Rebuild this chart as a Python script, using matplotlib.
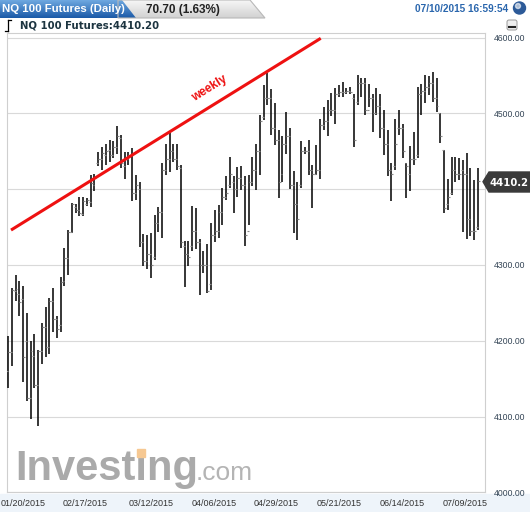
import numpy as np
import matplotlib.pyplot as plt
from matplotlib.patches import Polygon, Rectangle, Circle, FancyBboxPatch
from matplotlib.colors import LinearSegmentedColormap

# daily OHLC bars of NQ 100 futures
highs = [4206, 4270, 4287, 4279, 4272, 4236, 4200, 4209, 4188, 4224,
         4244, 4256, 4270, 4233, 4284, 4322, 4346, 4382, 4380, 4389,
         4389, 4388, 4418, 4420, 4449, 4456, 4460, 4465, 4463, 4483,
         4472, 4449, 4449, 4454, 4419, 4409, 4341, 4340, 4342, 4366,
         4377, 4434, 4460, 4474, 4460, 4460, 4432, 4331, 4331, 4378,
         4375, 4334, 4319, 4327, 4355, 4373, 4379, 4401, 4417, 4442,
         4417, 4429, 4430, 4417, 4418, 4443, 4460, 4498, 4537, 4553,
         4532, 4514, 4478, 4470, 4502, 4480, 4424, 4410, 4464, 4455,
         4465, 4432, 4458, 4493, 4508, 4518, 4527, 4534, 4537, 4542,
         4533, 4535, 4526, 4550, 4546, 4546, 4539, 4526, 4533, 4526,
         4504, 4478, 4434, 4492, 4505, 4486, 4434, 4457, 4476, 4535,
         4539, 4551, 4549, 4555, 4547, 4500, 4452, 4413, 4442, 4442,
         4441, 4439, 4448, 4428, 4412, 4428]
lows = [4138, 4166, 4252, 4232, 4145, 4121, 4097, 4137, 4087, 4169,
        4178, 4183, 4211, 4203, 4212, 4272, 4287, 4342, 4368, 4365,
        4365, 4378, 4377, 4397, 4430, 4425, 4432, 4436, 4441, 4447,
        4428, 4414, 4432, 4384, 4386, 4323, 4299, 4294, 4283, 4306,
        4344, 4336, 4418, 4423, 4436, 4425, 4322, 4271, 4298, 4318,
        4321, 4260, 4289, 4263, 4267, 4330, 4336, 4353, 4386, 4401,
        4368, 4390, 4399, 4325, 4353, 4404, 4399, 4419, 4491, 4511,
        4471, 4458, 4388, 4410, 4447, 4400, 4342, 4333, 4402, 4446,
        4419, 4375, 4419, 4414, 4478, 4470, 4496, 4486, 4522, 4522,
        4526, 4525, 4456, 4511, 4522, 4498, 4509, 4475, 4498, 4468,
        4445, 4417, 4384, 4425, 4471, 4441, 4388, 4397, 4432, 4441,
        4498, 4513, 4524, 4515, 4502, 4461, 4369, 4373, 4392, 4409,
        4412, 4344, 4334, 4338, 4333, 4346]
opens = [4160, 4185, 4266, 4262, 4255, 4200, 4125, 4180, 4142, 4186,
         4218, 4192, 4253, 4228, 4221, 4279, 4309, 4344, 4376, 4372,
         4367, 4380, 4383, 4405, 4435, 4440, 4445, 4452, 4445, 4455,
         4468, 4430, 4440, 4445, 4395, 4400, 4330, 4305, 4315, 4310,
         4355, 4370, 4425, 4440, 4450, 4440, 4428, 4325, 4315, 4325,
         4345, 4330, 4300, 4300, 4275, 4340, 4345, 4370, 4390, 4405,
         4410, 4400, 4415, 4405, 4345, 4410, 4425, 4450, 4495, 4520,
         4520, 4480, 4465, 4420, 4460, 4470, 4405, 4380, 4405, 4450,
         4450, 4425, 4420, 4425, 4485, 4490, 4505, 4505, 4525, 4528,
         4528, 4530, 4520, 4515, 4540, 4540, 4505, 4520, 4500, 4510,
         4480, 4460, 4425, 4430, 4480, 4480, 4434, 4420, 4440, 4445,
         4525, 4530, 4535, 4540, 4520, 4500, 4452, 4380, 4395, 4425,
         4420, 4425, 4420, 4360, 4345, 4350]
closes = [4185, 4267, 4268, 4251, 4178, 4125, 4186, 4142, 4186, 4218,
          4192, 4253, 4228, 4215, 4278, 4309, 4344, 4381, 4372, 4368,
          4385, 4386, 4408, 4415, 4440, 4448, 4450, 4445, 4455, 4470,
          4435, 4440, 4445, 4395, 4405, 4330, 4305, 4315, 4300, 4355,
          4370, 4425, 4440, 4450, 4440, 4430, 4330, 4315, 4310, 4345,
          4330, 4300, 4300, 4265, 4340, 4345, 4370, 4390, 4395, 4420,
          4400, 4415, 4405, 4340, 4410, 4425, 4450, 4490, 4520, 4520,
          4480, 4465, 4410, 4460, 4470, 4405, 4380, 4360, 4450, 4450,
          4425, 4420, 4425, 4485, 4490, 4505, 4505, 4525, 4528, 4528,
          4530, 4528, 4465, 4540, 4540, 4505, 4520, 4500, 4510, 4480,
          4460, 4425, 4420, 4460, 4480, 4450, 4430, 4440, 4440, 4525,
          4530, 4535, 4540, 4520, 4510, 4470, 4375, 4390, 4425, 4420,
          4420, 4420, 4360, 4345, 4345, 4410.2]

date_labels = ['01/20/2015', '02/17/2015', '03/12/2015', '04/06/2015',
               '04/29/2015', '05/21/2015', '06/14/2015', '07/09/2015']
date_pos = [4.0, 20.5, 38.05, 54.8, 71.3, 88.1, 104.8, 121.6]
price_ticks = [4000, 4100, 4200, 4300, 4400, 4500, 4600]

# hand drawn weekly trend line (bar index, price)
trend_x = [0.8, 83.2]
trend_y = [4346, 4599]

last_price = 4410.2
change = '70.70 (1.63%)'
stamp = '07/10/2015 16:59:54'

W, H = 530, 512
fig = plt.figure(figsize=(W / 100, H / 100), dpi=100)

bg = fig.add_axes([0, 0, 1, 1], zorder=0)
bg.set_axis_off()
bg.add_patch(Rectangle((0, 494), W, 18, color='#eef4fa'))
bg.set_xlim(0, W)
bg.set_ylim(H, 0)

# main price panel
ax = fig.add_axes([7 / W, (H - 492.3) / H, (485 - 7) / W, (492.3 - 33) / H], zorder=1)
ax.set_facecolor('white')
x = np.arange(len(highs))
ax.vlines(x, lows, highs, color='black', lw=1.1, zorder=3)
ax.hlines(opens, x - 0.5, x, color='#8a8a8a', lw=0.8, zorder=3)
ax.hlines(closes, x, x + 0.5, color='#8a8a8a', lw=0.8, zorder=3)

ax.plot(trend_x, trend_y, color='#ee1111', lw=2.2, solid_capstyle='butt', zorder=4)
ax.text(53.5, 4533, 'weekly', color='#ee1111', fontsize=8.6, fontweight='bold',
        family='Liberation Sans', rotation=32, rotation_mode='anchor',
        ha='center', va='center', zorder=4)

ax.set_xlim(-0.27, 126.9)
ax.set_ylim(4000, 4606)
ax.set_yticks(price_ticks)
# the 4400 label sits under the last price flag
ax.set_yticklabels(['' if p == 4400 else '%.2f' % p for p in price_ticks])
ax.yaxis.tick_right()
ax.set_xticks(date_pos)
ax.set_xticklabels(date_labels)
ax.tick_params(axis='y', length=0, pad=6.5, labelsize=6.2, labelcolor='#334455')
ax.tick_params(axis='x', length=0, pad=5, labelsize=6.5, labelcolor='#333333')
for lab in ax.get_xticklabels() + ax.get_yticklabels():
    lab.set_family('Liberation Sans')
ax.grid(axis='y', color='#d9d9d9', lw=0.8)
ax.grid(axis='x', visible=False)
for s in ax.spines.values():
    s.set_color('#cfcfcf')
    s.set_linewidth(0.8)

# header, price flag and watermark in pixel space
top = fig.add_axes([0, 0, 1, 1], zorder=2)
top.set_axis_off()
top.patch.set_alpha(0)

gray_tab = Polygon([(118, 0), (250, 0), (265, 18), (118, 18)], closed=True,
                   facecolor='none', edgecolor='#b8b8b8', lw=0.8)
top.add_patch(gray_tab)
g = np.linspace(0, 1, 40).reshape(-1, 1)
im = top.imshow(g, cmap=LinearSegmentedColormap.from_list('g', ['#f6f6f6', '#d2d2d2']),
                extent=(118, 266, 18, 0), aspect='auto')
im.set_clip_path(gray_tab)

blue_tab = Polygon([(0, 0), (122, 0), (136, 18), (0, 18)], closed=True,
                   facecolor='none', edgecolor='none')
top.add_patch(blue_tab)
im2 = top.imshow(g, cmap=LinearSegmentedColormap.from_list('b', ['#6ea8e0', '#1b5aa8']),
                 extent=(0, 137, 18, 0), aspect='auto')
im2.set_clip_path(blue_tab)

top.text(2, 9, 'NQ 100 Futures (Daily)', color='white', fontsize=8.2,
         fontweight='bold', family='Liberation Sans', va='center', ha='left')
top.text(146, 9.5, change, color='#222222', fontsize=8.5, fontweight='bold',
         family='Liberation Sans', va='center', ha='left')
top.text(508, 9, stamp, color='#2a66ad', fontsize=7.2, fontweight='bold',
         family='Liberation Sans', va='center', ha='right')
top.add_patch(Circle((519.5, 8), 6, color='#2c5a98'))
top.add_patch(Circle((518, 6), 2.5, color='white', alpha=0.6))

# small ohlc icon and instrument line
top.plot([8, 8], [20, 31], color='black', lw=0.9)
top.plot([5, 8], [31, 31], color='black', lw=0.9)
top.plot([8, 11], [20, 20], color='black', lw=0.9)
top.text(20, 25.5, 'NQ 100 Futures:' + '%.2f' % last_price, color='#1c3440',
         fontsize=7.3, fontweight='bold', family='DejaVu Sans', va='center', ha='left')
top.add_patch(FancyBboxPatch((507, 20), 10, 10, boxstyle='round,pad=0,rounding_size=2',
                             facecolor='#eeeeee', edgecolor='#999999', lw=0.7))
top.plot([509, 515], [27, 27], color='#222222', lw=1.5)

# last price flag
top.add_patch(Polygon([(483, 181.7), (489, 172), (530, 172), (530, 192), (489, 192)],
                      closed=True, color='#3a3a3a'))
top.text(490, 182.5, '%.1f' % last_price, color='white', fontsize=7.2,
         fontweight='bold', family='DejaVu Sans', va='center', ha='left')

# watermark
top.text(15, 480, 'Investing', color='#aaaaaa', fontsize=30, fontweight='bold',
         family='Liberation Sans', va='baseline', ha='left')
top.text(196, 480, '.com', color='#b4b4b4', fontsize=19,
         family='Liberation Sans', va='baseline', ha='left')
top.add_patch(Rectangle((136.5, 448.5), 8.5, 8.5, color='#f6c892', zorder=5))

top.set_xlim(0, W)
top.set_ylim(H, 0)

fig.savefig('out.png', dpi=100)
